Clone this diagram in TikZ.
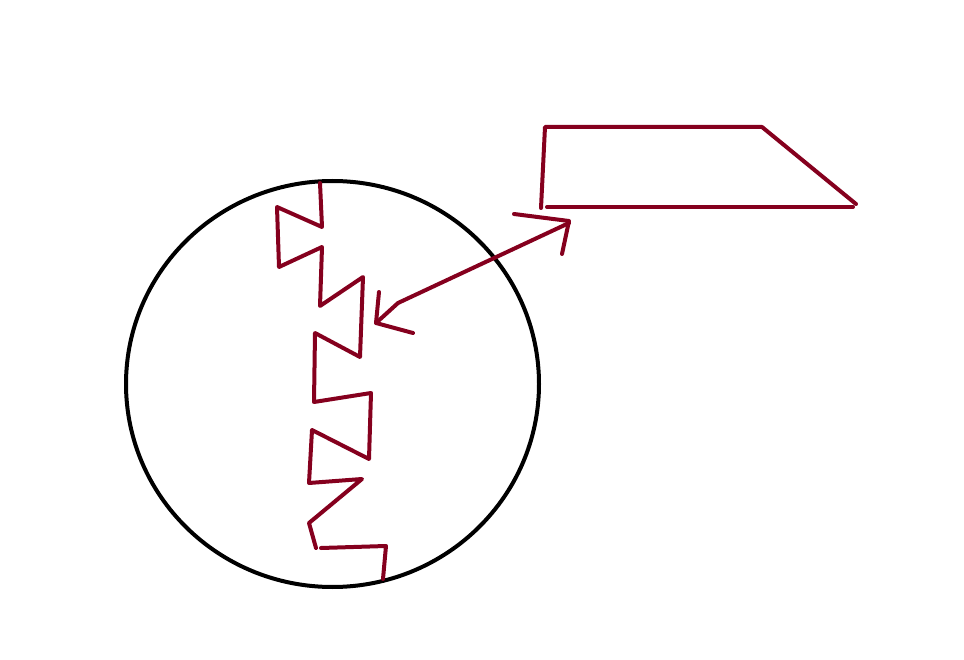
\documentclass[tikz,border=0pt]{standalone}
\definecolor{inkred}{RGB}{133,0,30}
\tikzset{
  redstroke/.style={draw=inkred, line width=4pt, line cap=round, line join=round},
  blackstroke/.style={draw=black, line width=4pt}
}
\begin{document}
\begin{tikzpicture}[x=1pt,y=-1pt]
\useasboundingbox (0,0) rectangle (964,660);
% circle
\draw[blackstroke] (332.5,384) ellipse [x radius=206.5, y radius=203];
% zigzag
\draw[redstroke] (320,183) -- (322,227) -- (277,207) -- (279,267) -- (322,247) -- (320,306)
  -- (363,277) -- (360,357) -- (315,333) -- (314,402) -- (371,393) -- (369,459)
  -- (312,430) -- (309,483) -- (362,479) -- (309,523) -- (316,548);
\draw[redstroke] (321,548) -- (386,546) -- (383,579);
% double arrow
\draw[redstroke] (376,323) -- (398,303) -- (569,223);
\draw[redstroke] (379,292) -- (376,323) -- (413,333);
\draw[redstroke] (514,214) -- (569,221) -- (562,254);
% trapezoid
\draw[redstroke] (541,208) -- (545,127) -- (762,127) -- (856,204);
\draw[redstroke] (853,207) -- (547,207);
\end{tikzpicture}
\end{document}
